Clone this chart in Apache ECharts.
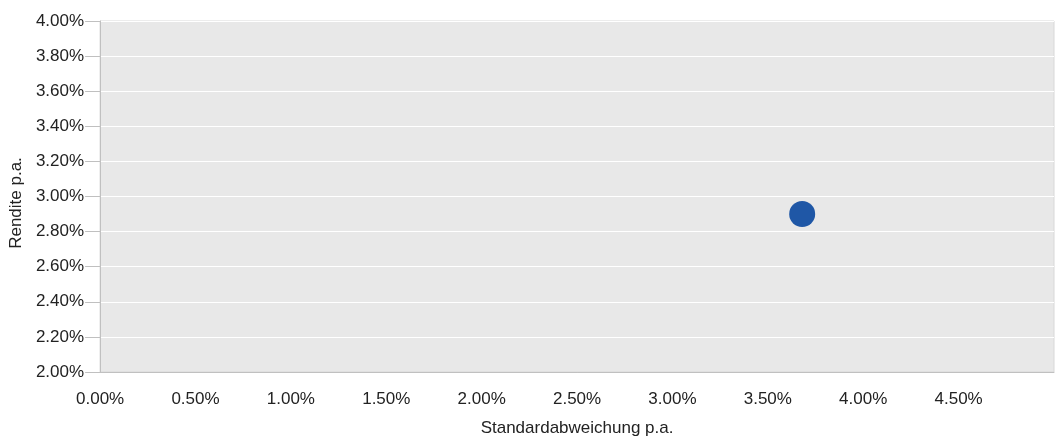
<!DOCTYPE html>
<html><head><meta charset="utf-8">
<script src="https://cdn.jsdelivr.net/npm/echarts@6/dist/echarts.min.js"></script>
<style>html,body{margin:0;padding:0;background:#fff;overflow:hidden;width:100%;height:100%}#c{width:100vw;height:100vh}</style>
</head><body><div id="c"></div>
<script>
const xName = 'Standardabweichung p.a.';
const yName = 'Rendite p.a.';
const stdDev = [3.68];
const returns = [2.90];
const chart = echarts.init(document.getElementById('c'), null, {renderer:'canvas'});
const font = 'Arial, "Liberation Sans", sans-serif';
const fs = 17;
chart.setOption({
  animation:false,
  grid:{left:98,right:2,top:21,bottom:66,show:true,backgroundColor:'#e8e8e8',borderColor:'#d8d8d8',borderWidth:1},
  xAxis:{type:'value',min:0,max:5,interval:0.5,
    name:xName,nameLocation:'middle',nameGap:48,
    nameTextStyle:{color:'#222',fontSize:fs,fontFamily:font},
    axisLine:{show:true,lineStyle:{color:'#c0c0c0'}},
    axisTick:{show:false},
    axisLabel:{color:'#222',fontSize:fs,fontFamily:font,margin:19,showMaxLabel:false,
      formatter:v=>v.toFixed(2)+'%'},
    splitLine:{show:false}},
  yAxis:{type:'value',min:2,max:4,interval:0.2,
    name:yName,nameLocation:'middle',nameGap:73,
    nameTextStyle:{color:'#222',fontSize:fs,fontFamily:font,padding:[0,13,0,0]},
    axisLine:{show:true,lineStyle:{color:'#c0c0c0'}},
    axisTick:{show:true,length:15,lineStyle:{color:'#c0c0c0'}},
    axisLabel:{color:'#222',fontSize:fs,fontFamily:font,margin:16,
      formatter:v=>v.toFixed(2)+'%'},
    splitLine:{show:true,lineStyle:{color:'#ffffff',width:1}}},
  series:[{type:'scatter',symbolSize:26,
    itemStyle:{color:'#1f57a6',opacity:1},
    data:stdDev.map((x,i)=>[x,returns[i]])}]
});
window.addEventListener('resize',()=>chart.resize());
</script></body></html>
